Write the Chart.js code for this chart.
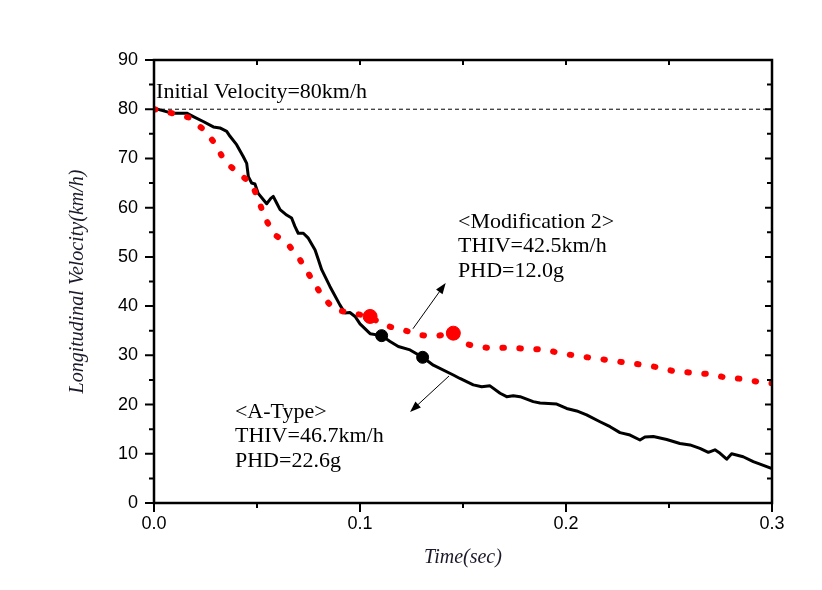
<!DOCTYPE html>
<html>
<head>
<meta charset="utf-8">
<script src="https://cdn.jsdelivr.net/npm/chart.js@4/dist/chart.umd.min.js"></script>
<style>html,body{margin:0;padding:0;background:#fff;overflow:hidden}canvas{display:block}</style>
</head>
<body>
<canvas id="c" width="822" height="590"></canvas>
<script>
// ---- tick labels ----
const xTickValues = [0, 0.1, 0.2, 0.3];
const yTickValues = [0, 10, 20, 30, 40, 50, 60, 70, 80, 90];
const xMinorStep = 0.05;
const yMinorStep = 5;

// ---- A-Type (black solid) ----
const timeA = [0, 0.0086, 0.0159, 0.0191, 0.0239, 0.0288, 0.032, 0.0353, 0.0369, 0.0401, 0.0433, 0.045, 0.0458, 0.0474, 0.049, 0.0506, 0.0531, 0.0547, 0.0567, 0.0579, 0.0596, 0.0612, 0.0644, 0.0668, 0.0684, 0.07, 0.0725, 0.0749, 0.0782, 0.0798, 0.0814, 0.0854, 0.0903, 0.0927, 0.0951, 0.0976, 0.1, 0.1049, 0.1105, 0.1146, 0.1186, 0.1243, 0.1304, 0.1356, 0.1453, 0.1485, 0.155, 0.1591, 0.1631, 0.168, 0.1712, 0.1744, 0.1777, 0.1841, 0.1874, 0.1955, 0.2003, 0.2052, 0.21, 0.2165, 0.2214, 0.2262, 0.2311, 0.2359, 0.2383, 0.2424, 0.2489, 0.2553, 0.2602, 0.265, 0.2691, 0.2723, 0.2748, 0.278, 0.2804, 0.286, 0.2909, 0.2942, 0.3];
const velA  = [80.2, 79.2, 79.2, 78.5, 77.5, 76.4, 76.2, 75.5, 74.5, 72.8, 70.4, 69.0, 66.3, 65.0, 64.8, 62.9, 61.6, 60.8, 61.9, 62.3, 60.9, 59.6, 58.5, 57.9, 56.2, 54.8, 54.8, 53.8, 51.4, 49.4, 47.4, 44.0, 40.2, 38.6, 38.7, 37.9, 36.4, 34.4, 34.0, 32.8, 31.8, 31.1, 29.6, 28.0, 26.0, 25.3, 24.0, 23.6, 23.8, 22.3, 21.6, 21.8, 21.6, 20.6, 20.3, 20.1, 19.2, 18.7, 17.9, 16.5, 15.5, 14.3, 13.8, 12.8, 13.4, 13.5, 12.9, 12.1, 11.8, 11.1, 10.3, 10.8, 10.1, 8.9, 10.0, 9.4, 8.4, 7.9, 7.0];

// ---- Modification 2 (red dotted) ----
const timeM = [0, 0.0086, 0.017, 0.024, 0.0301, 0.0341, 0.0406, 0.0476, 0.051, 0.054, 0.0583, 0.065, 0.0709, 0.0757, 0.0814, 0.0875, 0.0956, 0.1049, 0.1102, 0.117, 0.1223, 0.129, 0.1369, 0.1453, 0.1498, 0.1563, 0.1644, 0.1725, 0.1809, 0.1893, 0.1976, 0.2055, 0.2137, 0.2227, 0.2307, 0.2392, 0.244, 0.2521, 0.2605, 0.2691, 0.2775, 0.2861, 0.2945, 0.3];
const velM  = [80.0, 79.2, 78.3, 75.9, 72.8, 69.5, 67.1, 64.8, 61.2, 57.8, 54.6, 52.6, 49.4, 46.1, 42.2, 39.3, 38.6, 37.9, 36.4, 35.5, 35.0, 34.1, 33.9, 34.5, 32.5, 31.8, 31.4, 31.6, 31.3, 31.2, 30.4, 29.9, 29.4, 28.9, 28.4, 28.0, 27.6, 26.8, 26.5, 26.2, 25.5, 25.2, 24.5, 24.3];

// ---- highlighted points ----
const markTimeM = [0.1049, 0.1453];
const markVelM  = [37.9, 34.5];
const markTimeA = [0.1105, 0.1304];
const markVelA  = [34.0, 29.6];

// ---- initial velocity reference ----
const initTime = [0, 0.3];
const initVel  = [80, 80];

// ---- annotations (data coordinates) ----
const noteInit = { t: 0.001, v: 82.3, lines: ['Initial Velocity=80km/h'] };
const noteMod  = { t: 0.1476, v: 55.9, lines: ['<Modification 2>', 'THIV=42.5km/h', 'PHD=12.0g'] };
const noteA    = { t: 0.0393, v: 17.3, lines: ['<A-Type>', 'THIV=46.7km/h', 'PHD=22.6g'] };
const arrowMod = { from: [0.1257, 35.4], to: [0.1416, 44.7] };
const arrowA   = { from: [0.1432, 25.8], to: [0.1243, 18.5] };

const zip = (xs, ys) => xs.map((x, i) => ({ x: x, y: ys[i] }));

const framePlugin = {
  id: 'frameTicks',
  afterDraw(chart) {
    const { ctx, chartArea: a, scales: { x, y } } = chart;
    ctx.save();
    ctx.strokeStyle = '#000';
    ctx.lineWidth = 2.5;
    ctx.strokeRect(a.left, a.top, a.right - a.left, a.bottom - a.top);
    ctx.lineWidth = 2;
    ctx.beginPath();
    const nx = Math.round(x.max / xMinorStep);
    for (let i = 0; i <= nx; i++) {
      const px = x.getPixelForValue(i * xMinorStep);
      const major = i % 2 === 0;
      ctx.moveTo(px, a.bottom);
      ctx.lineTo(px, a.bottom + (major ? 9 : 5));
      ctx.moveTo(px, a.top);
      ctx.lineTo(px, a.top + 5);
    }
    const ny = Math.round(y.max / yMinorStep);
    for (let i = 0; i <= ny; i++) {
      const py = y.getPixelForValue(i * yMinorStep);
      const major = i % 2 === 0;
      ctx.moveTo(a.left, py);
      ctx.lineTo(a.left - (major ? 9 : 5), py);
      ctx.moveTo(a.right, py);
      ctx.lineTo(a.right - (major ? 7 : 5), py);
    }
    ctx.stroke();
    ctx.restore();
  }
};

function drawArrow(ctx, x1, y1, x2, y2) {
  const ang = Math.atan2(y2 - y1, x2 - x1);
  const L = 11, W = 4;
  ctx.beginPath();
  ctx.moveTo(x1, y1);
  ctx.lineTo(x2 - Math.cos(ang) * L * 0.8, y2 - Math.sin(ang) * L * 0.8);
  ctx.stroke();
  ctx.beginPath();
  ctx.moveTo(x2, y2);
  ctx.lineTo(x2 - Math.cos(ang) * L - Math.sin(ang) * W, y2 - Math.sin(ang) * L + Math.cos(ang) * W);
  ctx.lineTo(x2 - Math.cos(ang) * L + Math.sin(ang) * W, y2 - Math.sin(ang) * L - Math.cos(ang) * W);
  ctx.closePath();
  ctx.fill();
}

const notesPlugin = {
  id: 'notes',
  afterDatasetsDraw(chart) {
    const { ctx, scales: { x, y } } = chart;
    ctx.save();
    ctx.fillStyle = '#000';
    ctx.strokeStyle = '#000';
    ctx.font = '22px "Liberation Serif", "Times New Roman", serif';
    ctx.textBaseline = 'alphabetic';
    ctx.textAlign = 'left';
    [noteInit, noteMod, noteA].forEach(n => {
      const px = x.getPixelForValue(n.t), py = y.getPixelForValue(n.v);
      n.lines.forEach((s, i) => ctx.fillText(s, px, py + i * 24.5));
    });
    ctx.lineWidth = 1;
    [arrowMod, arrowA].forEach(ar => {
      drawArrow(ctx,
        x.getPixelForValue(ar.from[0]), y.getPixelForValue(ar.from[1]),
        x.getPixelForValue(ar.to[0]), y.getPixelForValue(ar.to[1]));
    });
    ctx.restore();
  }
};

new Chart(document.getElementById('c'), {
  type: 'scatter',
  data: {
    datasets: [
      { label: 'A-Type points', data: zip(markTimeA, markVelA), pointRadius: 6, pointBackgroundColor: '#000', pointBorderColor: '#000', showLine: false, order: 0 },
      { label: 'Mod2 points', data: zip(markTimeM, markVelM), pointRadius: 7, pointBackgroundColor: '#ff0000', pointBorderColor: '#ff0000', showLine: false, order: 1 },
      { label: 'Modification 2', data: zip(timeM, velM), showLine: true, borderColor: '#ff0000', borderWidth: 6, borderDash: [1.5, 15.5], borderCapStyle: 'round', pointRadius: 0, tension: 0, order: 2 },
      { label: 'A-Type', data: zip(timeA, velA), showLine: true, borderColor: '#000', borderWidth: 3, borderJoinStyle: 'round', borderCapStyle: 'round', pointRadius: 0, tension: 0, order: 3 },
      { label: 'Initial', data: zip(initTime, initVel), showLine: true, borderColor: '#000', borderWidth: 1, borderDash: [4, 3], pointRadius: 0, order: 4 }
    ]
  },
  options: {
    responsive: false,
    animation: false,
    devicePixelRatio: 1,
    layout: { padding: { left: 0, right: 50, top: 60, bottom: 0 } },
    plugins: { legend: { display: false }, tooltip: { enabled: false } },
    scales: {
      x: {
        type: 'linear', min: 0, max: 0.3,
        afterBuildTicks: s => { s.ticks = xTickValues.map(v => ({ value: v })); },
        afterFit: s => { s.height = 87; },
        grid: { display: false, drawTicks: false },
        border: { display: false },
        ticks: { padding: 10, color: '#000', font: { family: '"Liberation Sans", Arial, sans-serif', size: 18 }, callback: v => Number(v).toFixed(1), maxRotation: 0 },
        title: { display: true, text: 'Time(sec)', color: '#1a1a2a', padding: { top: 0, bottom: 20 }, font: { family: '"Liberation Serif", "Times New Roman", serif', size: 20, style: 'italic' } }
      },
      y: {
        type: 'linear', min: 0, max: 90,
        afterBuildTicks: s => { s.ticks = yTickValues.map(v => ({ value: v })); },
        afterFit: s => { s.width = 154; },
        grid: { display: false, drawTicks: false },
        border: { display: false },
        ticks: { padding: 16, color: '#000', font: { family: '"Liberation Sans", Arial, sans-serif', size: 18 }, callback: v => String(v) },
        title: { display: true, text: 'Longitudinal Velocity(km/h)', color: '#1a1a2a', padding: { top: 66, bottom: 0 }, font: { family: '"Liberation Serif", "Times New Roman", serif', size: 20, style: 'italic' } }
      }
    }
  },
  plugins: [framePlugin, notesPlugin]
});
</script>
</body>
</html>
